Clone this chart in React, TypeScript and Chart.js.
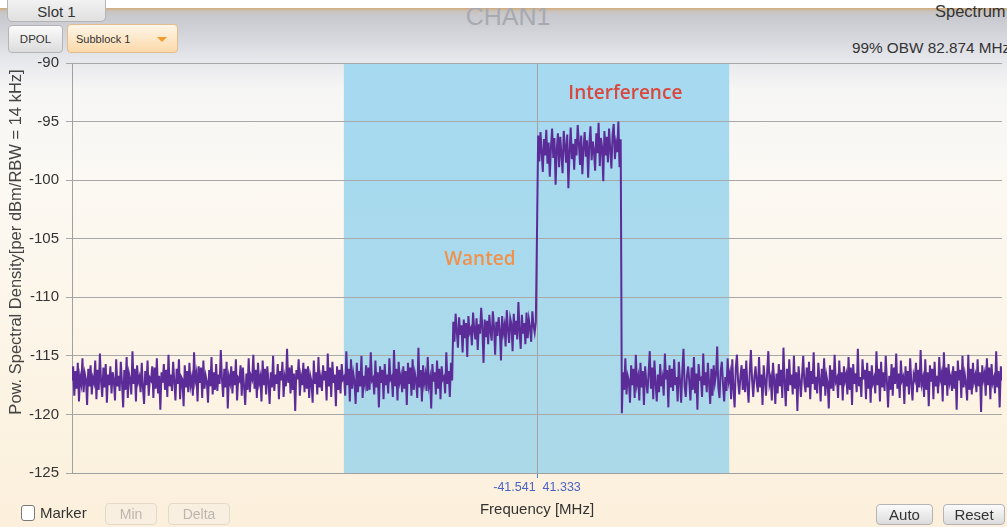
import React, { useEffect, useRef } from "react";
import { Chart, registerables } from "chart.js";

Chart.register(...registerables);

// Spectrum bins: 0.25 MHz spacing, power in dBm per 14 kHz RBW
const binStep = 0.25;

const floorLowStart = -100;
const floorLowPsd = [
  -117.1, -115.9, -118.4, -116.3, -117.8, -115.6, -118.9, -116.8, -117.4, -115.2,
  -118.1, -116.5, -117.0, -119.2, -116.1, -117.6, -115.8, -118.3, -116.9, -117.3,
  -115.4, -118.7, -116.2, -117.9, -114.8, -117.2, -118.5, -116.0, -117.7, -115.7,
  -119.0, -116.6, -117.5, -115.9, -118.2, -116.4, -117.1, -118.8, -115.3, -117.6,
  -116.7, -118.0, -115.5, -117.3, -119.4, -116.2, -117.9, -115.1, -118.6, -116.5,
  -117.0, -118.3, -114.6, -117.4, -116.1, -118.9, -115.8, -117.2, -116.8, -118.1,
  -115.6, -117.7, -119.1, -116.3, -117.5, -115.4, -118.4, -116.9, -117.1, -115.9,
  -118.6, -116.0, -117.8, -115.2, -118.2, -116.7, -119.6, -116.4, -117.3, -115.7,
  -117.9, -116.2, -118.5, -114.9, -117.6, -116.6, -118.0, -115.5, -117.2, -118.8,
  -116.1, -117.4, -115.3, -118.7, -116.8, -117.0, -119.3, -115.8, -117.7, -116.3,
  -118.1, -115.6, -117.5, -116.9, -118.4, -114.7, -117.1, -116.5, -118.9, -115.9,
  -117.3, -116.0, -118.6, -115.4, -117.8, -116.7, -117.2, -119.0, -116.2, -117.6,
  -115.1, -118.3, -116.4, -117.9, -115.7, -118.0, -116.6, -117.4, -114.5, -117.0,
  -118.5, -116.1, -117.7, -115.5, -119.5, -116.8, -117.3, -115.9, -118.2, -116.3,
  -117.5, -115.3, -118.8, -116.9, -117.1, -115.8, -118.4, -116.0, -117.6, -119.2,
  -116.5, -117.9, -115.2, -118.1, -116.7, -117.0, -114.9, -117.8, -116.2, -118.6,
  -115.6, -117.3, -116.8, -118.9, -115.4, -117.5, -116.1, -118.3, -115.9, -117.2,
  -119.1, -116.4, -117.7, -115.0, -118.0, -116.6, -117.4, -115.7, -118.7, -116.3,
  -117.1, -115.5, -118.5, -116.9, -117.6, -114.4, -117.3, -116.0, -118.2, -115.8,
  -117.9, -116.5, -119.7, -116.2, -117.0, -115.3, -118.4, -116.8, -117.5, -115.6,
  -118.1, -116.1, -117.8, -115.9, -118.6, -116.7, -117.2, -119.0, -115.4, -117.4,
  -116.4, -118.3, -115.1, -117.7, -116.9, -118.0, -115.8, -117.1, -116.3, -118.8,
  -114.8, -117.6, -116.0, -118.5, -115.5, -117.3, -116.6, -119.3, -115.9, -117.9,
  -116.2, -118.2, -115.7, -117.0, -116.8, -118.4, -114.6, -117.5, -116.1, -118.9,
  -115.3, -117.8, -116.5, -117.2, -119.1, -115.6, -118.1, -116.3, -117.6, -115.0,
  -118.6, -116.7, -117.4, -115.8, -118.0, -116.0, -117.9, -114.7, -117.1, -116.9,
  -118.3, -115.4, -117.7, -116.4, -119.4, -115.9, -117.3, -116.2, -118.7, -115.7,
  -117.5, -116.6, -118.2, -115.2, -117.0, -116.8, -118.5, -114.5, -117.6, -116.1,
  -118.8, -115.5, -117.2, -116.7, -118.1, -115.9, -117.8, -116.3, -119.2, -115.6,
  -117.4, -116.0, -118.4, -115.3, -117.9, -116.5, -117.1, -118.6, -114.3, -117.7,
  -116.2, -118.9, -115.8, -117.3, -116.6, -118.0, -115.1, -117.5, -116.9, -119.5,
  -115.7, -117.2, -116.4, -118.3, -115.4, -117.8, -116.1, -118.7, -115.9, -117.0,
  -116.8, -118.2, -114.7, -117.4, -116.3, -118.5, -115.6, -117.1,
];

const wantedStart = -18;
const wantedPsd = [
  -112.1, -113.8, -111.4, -112.9, -114.3, -111.7, -113.2, -112.4, -114.7, -111.9,
  -113.5, -112.2, -115.1, -111.6, -113.0, -112.7, -114.1, -111.3, -112.8, -113.6,
  -111.8, -114.5, -112.3, -113.1, -110.9, -112.6, -115.6, -111.9, -113.4, -112.0,
  -114.0, -111.5, -112.9, -113.7, -111.2, -112.5, -114.9, -112.1, -113.3, -111.7,
  -112.8, -115.4, -111.6, -113.0, -112.4, -114.2, -111.1, -112.7, -113.9, -111.8,
  -112.3, -114.6, -111.4, -113.2, -112.0, -113.6, -110.4, -112.9, -114.4, -111.5,
  -113.1, -112.2, -114.0, -111.3, -113.5, -111.9, -112.6, -113.8, -111.2, -112.4,
  -113.0, -112.1,
];

const interferenceStart = 0;
const interferencePsd = [
  -104.5, -96.2, -98.4, -95.9, -97.6, -99.3, -96.5, -97.9, -95.7, -98.6,
  -96.8, -99.7, -97.2, -95.6, -98.1, -96.4, -100.4, -97.4, -96.0, -98.9,
  -96.3, -97.8, -99.4, -95.8, -97.1, -98.5, -96.1, -100.7, -97.6, -95.5,
  -98.2, -96.9, -99.1, -96.5, -97.9, -95.3, -96.8, -98.7, -96.2, -99.5,
  -97.3, -95.9, -98.0, -96.6, -99.8, -97.0, -95.4, -98.3, -96.7, -97.5,
  -99.2, -96.0, -97.7, -95.1, -98.8, -96.4, -97.2, -100.1, -95.8, -97.9,
  -96.3, -98.5, -95.6, -97.4, -99.0, -96.1, -95.2, -98.2, -96.9, -97.6,
  -95.0, -98.9, -96.5,
];

const floorHighStart = 18.25;
const floorHighPsd = [
  -119.9, -116.4, -117.9, -115.2, -118.3, -116.7, -117.1, -119.0, -115.8, -117.5,
  -116.1, -118.6, -114.9, -117.4, -116.8, -118.8, -115.6, -117.7, -116.3, -119.2,
  -115.9, -117.2, -118.2, -116.5, -114.6, -117.8, -116.0, -118.7, -115.4, -117.3,
  -118.9, -116.6, -118.1, -115.7, -117.6, -116.9, -118.4, -114.8, -117.0, -116.2,
  -119.4, -115.8, -117.7, -116.1, -118.0, -115.3, -117.5, -116.8, -118.9, -115.5,
  -117.1, -119.0, -116.3, -114.4, -117.6, -118.5, -116.7, -115.9, -117.2, -118.8,
  -116.0, -117.9, -115.1, -118.2, -116.5, -119.6, -115.7, -117.0, -116.9, -118.5,
  -114.8, -117.5, -116.4, -118.1, -115.6, -117.3, -119.1, -116.1, -118.4, -115.8,
  -117.3, -116.6, -114.2, -117.7, -118.6, -116.3, -115.5, -117.4, -118.9, -116.8,
  -118.0, -115.2, -117.1, -116.5, -118.7, -115.3, -117.8, -119.4, -116.0, -114.9,
  -117.2, -118.3, -116.7, -115.8, -117.9, -116.1, -118.1, -115.4, -117.5, -119.0,
  -116.4, -114.5, -117.0, -118.5, -116.8, -115.9, -117.3, -118.1, -115.1, -117.7,
  -116.6, -119.2, -115.8, -117.1, -118.4, -116.3, -114.6, -117.4, -116.9, -118.8,
  -115.6, -117.0, -119.1, -116.5, -118.2, -115.7, -117.6, -116.2, -118.6, -114.3,
  -117.2, -119.3, -116.1, -118.0, -115.3, -117.5, -116.6, -118.3, -115.0, -117.8,
  -116.4, -119.7, -115.9, -117.1, -118.5, -116.7, -115.0, -117.3, -118.1, -116.0,
  -117.7, -115.5, -118.7, -116.3, -117.4, -114.7, -117.9, -116.8, -118.2, -115.6,
  -117.0, -118.9, -116.1, -117.6, -115.2, -118.4, -116.7, -117.3, -119.5, -115.8,
  -117.8, -116.2, -118.0, -114.9, -117.2, -116.9, -118.6, -115.4, -117.5, -116.4,
  -118.8, -115.9, -117.1, -116.6, -118.3, -115.1, -117.9, -116.0, -119.2, -115.7,
  -117.4, -116.5, -118.1, -114.4, -117.6, -116.8, -118.5, -115.3, -117.0, -116.2,
  -118.7, -115.6, -117.8, -116.3, -119.0, -115.8, -117.3, -116.9, -118.2, -114.6,
  -117.5, -116.1, -118.9, -115.5, -117.7, -116.4, -118.0, -115.0, -117.2, -119.4,
  -116.7, -117.9, -115.7, -118.4, -116.0, -117.4, -114.8, -117.8, -116.5, -118.6,
  -115.4, -117.1, -116.8, -119.1, -115.9, -117.6, -116.3, -118.3, -115.2, -117.3,
  -118.8, -116.6, -117.0, -115.6, -118.1, -116.2, -117.7, -114.5, -117.4, -116.9,
  -118.5, -115.3, -117.9, -116.4, -119.3, -115.8, -117.2, -116.1, -118.7, -115.5,
  -117.6, -116.7, -118.2, -115.1, -117.0, -116.5, -118.9, -114.7, -117.5, -116.0,
  -118.4, -115.7, -117.3, -116.8, -118.0, -115.9, -117.8, -116.3, -119.6, -115.4,
  -117.1, -116.2, -118.6, -115.0, -117.7, -116.6, -117.4, -118.8, -114.9, -117.9,
  -116.1, -118.3, -115.6, -117.2, -116.7, -118.1, -115.3, -117.6, -116.4, -119.8,
  -115.8, -117.0, -116.5, -118.4, -115.2, -117.5, -116.0, -118.7, -115.7, -117.3,
  -116.9, -118.2, -114.6, -117.7, -116.3, -119.4, -115.9, -117.1,
];

const freqMin = -100;
const freqMax = 100;
const powerMin = -125;
const powerMax = -90;
const powerTicks = [-90, -95, -100, -105, -110, -115, -120, -125];

// 99% occupied bandwidth edges (MHz)
const obwLow = -41.541;
const obwHigh = 41.333;

const noteLabels = ["Interference", "Wanted"];
const noteFreqs = [19.0, -12.3];
const notePowers = [-92.6, -106.8];
const noteColors = ["#d9473d", "#f1924c"];

const yTitle = "Pow. Spectral Density[per dBm/RBW = 14 kHz]";
const xTitle = "Frequency [MHz]";

const FONT = "'Liberation Sans', Arial, sans-serif";

const segments = [
  { start: floorLowStart, values: floorLowPsd },
  { start: wantedStart, values: wantedPsd },
  { start: interferenceStart, values: interferencePsd },
  { start: floorHighStart, values: floorHighPsd },
];

const tracePoints = segments.flatMap((seg) =>
  seg.values.map((v, i) => ({ x: seg.start + i * binStep, y: v }))
);

const backdropPlugin = {
  id: "obwBackdrop",
  beforeDraw(chart: any) {
    const { ctx, chartArea, scales } = chart;
    const x0 = scales.x.getPixelForValue(obwLow);
    const x1 = scales.x.getPixelForValue(obwHigh);
    const g = ctx.createLinearGradient(0, chartArea.top, 0, chartArea.bottom);
    g.addColorStop(0, "#a6daf1");
    g.addColorStop(1, "#acd9e8");
    ctx.save();
    ctx.fillStyle = g;
    ctx.fillRect(x0, chartArea.top, x1 - x0, chartArea.bottom - chartArea.top);
    ctx.restore();
  },
  afterDraw(chart: any) {
    const { ctx, scales } = chart;
    ctx.save();
    ctx.textAlign = "center";
    ctx.textBaseline = "middle";
    ctx.font = "600 19px 'Open Sans', sans-serif";
    noteLabels.forEach((t, i) => {
      ctx.fillStyle = noteColors[i];
      ctx.fillText(
        t,
        scales.x.getPixelForValue(noteFreqs[i]),
        scales.y.getPixelForValue(notePowers[i])
      );
    });
    ctx.translate(16, 242);
    ctx.rotate(-Math.PI / 2);
    ctx.font = `16.5px ${FONT}`;
    ctx.fillStyle = "#444";
    ctx.fillText(yTitle, 0, 0);
    ctx.restore();
  },
};

const grayBtn: React.CSSProperties = {
  position: "absolute",
  boxSizing: "border-box",
  background: "linear-gradient(#fbfbfb, #dcdcdc)",
  border: "1px solid #b4b4b4",
  borderRadius: 4,
  fontFamily: FONT,
  color: "#333",
  display: "flex",
  alignItems: "center",
  justifyContent: "center",
};

const disabledBtn: React.CSSProperties = {
  ...grayBtn,
  background: "#f8efe1",
  border: "1px solid #e3d9c8",
  color: "#bdb6ad",
  fontSize: 14,
};

export default function App() {
  const canvasRef = useRef<HTMLCanvasElement | null>(null);

  useEffect(() => {
    if (!canvasRef.current) return;
    const chart = new Chart(canvasRef.current, {
      type: "line",
      data: {
        datasets: [
          {
            data: tracePoints,
            borderColor: "#5b2c98",
            borderWidth: 2,
            pointRadius: 0,
            tension: 0,
            fill: false,
          },
        ],
      },
      options: {
        responsive: false,
        animation: false,
        events: [],
        layout: { padding: { top: 63, right: 5, bottom: 0, left: 0 } },
        plugins: { legend: { display: false }, tooltip: { enabled: false } },
        scales: {
          x: {
            type: "linear",
            min: freqMin,
            max: freqMax,
            afterBuildTicks: (axis: any) => {
              axis.ticks = [{ value: 0 }];
            },
            afterFit: (s: any) => {
              s.height = 54;
            },
            ticks: {
              callback: () => `${obwLow}  ${obwHigh}`,
              color: "#4b63c6",
              font: { family: FONT, size: 12.5 },
              padding: 2,
              maxRotation: 0,
            },
            grid: {
              color: "#a3a3a3",
              tickColor: "#3d86e0",
              tickLength: 5,
              lineWidth: 1,
            },
            border: { display: true, color: "#a0a0a0" },
            title: {
              display: true,
              text: xTitle,
              color: "#333",
              font: { family: FONT, size: 15 },
              padding: { top: 4, bottom: 8 },
            },
          },
          y: {
            type: "linear",
            min: powerMin,
            max: powerMax,
            afterBuildTicks: (axis: any) => {
              axis.ticks = powerTicks.map((v) => ({ value: v }));
            },
            afterFit: (s: any) => {
              s.width = 72;
            },
            ticks: {
              color: "#333",
              font: { family: FONT, size: 15 },
              padding: 7,
            },
            grid: {
              color: "#a8a8a8",
              tickColor: "#a8a8a8",
              tickLength: 6,
              lineWidth: 1,
            },
            border: { display: true, color: "#a0a0a0" },
          },
        },
      },
      plugins: [backdropPlugin],
    });
    return () => chart.destroy();
  }, []);

  return (
    <div
      style={{
        position: "absolute",
        left: 0,
        top: 0,
        width: 1007,
        height: 527,
        overflow: "hidden",
        fontFamily: FONT,
        background:
          "linear-gradient(to bottom, #ffffff 0px, #ffffff 7px, #d3a977 8px, #c9c2bc 11px, #c8c9cf 16px, #d9dae0 42px, #e6e7eb 58px, #f6f6f5 90px, #fcf9f3 180px, #fcf3e3 400px, #fcf0dc 527px)",
      }}
    >
      {/* header */}
      <div
        style={{
          position: "absolute",
          left: 448,
          top: 4,
          width: 120,
          textAlign: "center",
          fontSize: 25,
          color: "#a8a9b0",
          lineHeight: "25px",
        }}
      >
        CHAN1
      </div>
      <div
        style={{
          position: "absolute",
          left: 0,
          top: 0,
          width: 1007,
          height: 8,
          background: "#ffffff",
        }}
      />
      <div
        style={{
          ...grayBtn,
          left: 7,
          top: -4,
          width: 99,
          height: 26,
          borderRadius: "0 0 5px 5px",
          background: "linear-gradient(#f4f4f4, #e0e0e0)",
          fontSize: 15,
          paddingTop: 4,
        }}
      >
        Slot 1
      </div>
      <div
        style={{
          position: "absolute",
          left: 935,
          top: 2,
          fontSize: 16.5,
          color: "#333",
          whiteSpace: "nowrap",
        }}
      >
        Spectrum
      </div>
      <div
        style={{
          position: "absolute",
          left: 852,
          top: 39,
          fontSize: 15.3,
          color: "#333",
          whiteSpace: "nowrap",
        }}
      >
        99% OBW 82.874 MHz
      </div>
      <div style={{ ...grayBtn, left: 8, top: 25, width: 55, height: 28, fontSize: 11.5 }}>
        DPOL
      </div>
      <div
        style={{
          ...grayBtn,
          left: 67,
          top: 24,
          width: 111,
          height: 29,
          background: "linear-gradient(#fff6e8, #fbd9a9)",
          border: "1px solid #e4bd8c",
          fontSize: 11,
          justifyContent: "flex-start",
          paddingLeft: 8,
        }}
      >
        Subblock 1
        <span
          style={{
            position: "absolute",
            left: 89,
            top: 12,
            width: 0,
            height: 0,
            borderLeft: "5px solid transparent",
            borderRight: "5px solid transparent",
            borderTop: "5px solid #f29a2e",
          }}
        />
      </div>

      <canvas
        ref={canvasRef}
        width={1007}
        height={527}
        style={{ position: "absolute", left: 0, top: 0, width: 1007, height: 527 }}
      />

      {/* footer */}
      <div
        style={{
          position: "absolute",
          left: 21,
          top: 505,
          width: 14,
          height: 16,
          boxSizing: "border-box",
          border: "1px solid #7a7a7a",
          borderRadius: 3,
          background: "#fff",
        }}
      />
      <div style={{ position: "absolute", left: 40, top: 504, fontSize: 15, color: "#333" }}>
        Marker
      </div>
      <div style={{ ...disabledBtn, left: 105, top: 503, width: 52, height: 22 }}>Min</div>
      <div style={{ ...disabledBtn, left: 168, top: 503, width: 62, height: 22 }}>Delta</div>
      <div style={{ ...grayBtn, left: 876, top: 504, width: 57, height: 21, fontSize: 15 }}>
        Auto
      </div>
      <div style={{ ...grayBtn, left: 943, top: 504, width: 62, height: 21, fontSize: 15 }}>
        Reset
      </div>
    </div>
  );
}
